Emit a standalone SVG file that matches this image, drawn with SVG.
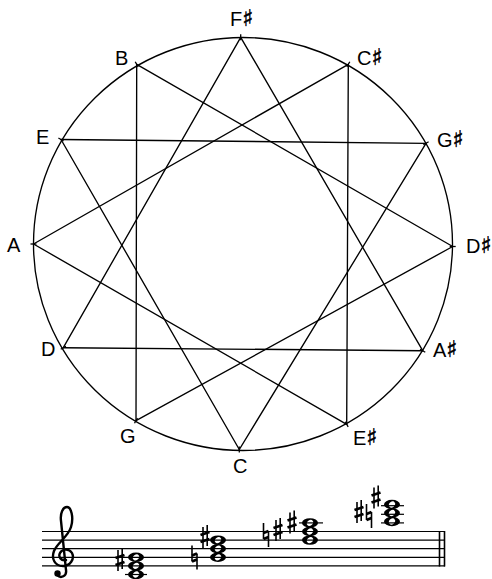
<svg xmlns="http://www.w3.org/2000/svg" width="492" height="579" viewBox="0 0 492 579">
<style>
.ln{stroke:#000;stroke-width:1.35;fill:none;stroke-linecap:round}
.tk{stroke:#000;stroke-width:1.3}
.lbl{font-family:"Liberation Sans","DejaVu Sans",sans-serif;font-size:20px;fill:#000}
.sh{font-family:"DejaVu Sans",sans-serif;font-size:23px;fill:#000;stroke:#000;stroke-width:0.5}
.st{stroke:#000;stroke-width:1.2}
.acc{stroke:#000;fill:none}
</style>
<defs>
<path id="wn" fill-rule="evenodd" fill="#000" d="M -8 0 A 8 4.7 0 1 0 8 0 A 8 4.7 0 1 0 -8 0 Z M 2.6 -2.1 A 3.4 2.3 -40 1 0 -2.6 2.1 A 3.4 2.3 -40 1 0 2.6 -2.1 Z"/>
<g id="sharp" class="acc">
<line x1="-2" y1="-10" x2="-2" y2="11" stroke-width="1.6"/>
<line x1="2.2" y1="-12" x2="2.2" y2="9" stroke-width="1.6"/>
<line x1="-4.5" y1="-2" x2="4.5" y2="-5" stroke-width="2.8"/>
<line x1="-4.5" y1="5" x2="4.5" y2="2" stroke-width="2.8"/>
</g>
<g id="natural" class="acc">
<line x1="-2.5" y1="-12" x2="-2.5" y2="4" stroke-width="1.6"/>
<line x1="2.5" y1="-4" x2="2.5" y2="12" stroke-width="1.6"/>
<line x1="-2.5" y1="-2" x2="2.5" y2="-4" stroke-width="2.6"/>
<line x1="-2.5" y1="4" x2="2.5" y2="2" stroke-width="2.6"/>
</g>
</defs>
<rect width="492" height="579" fill="#fff"/>
<g id="circle">
<ellipse cx="243" cy="244" rx="209.5" ry="206.5" class="ln"/>
</g>
<g id="connectors">
<line class="ln" x1="240.7" y1="37.3" x2="422.7" y2="350.7"/>
<line class="ln" x1="422.7" y1="350.7" x2="63.3" y2="347.7"/>
<line class="ln" x1="63.3" y1="347.7" x2="240.7" y2="37.3"/>
<line class="ln" x1="348.3" y1="64.3" x2="346.7" y2="424.3"/>
<line class="ln" x1="346.7" y1="424.3" x2="33.5" y2="244"/>
<line class="ln" x1="33.5" y1="244" x2="348.3" y2="64.3"/>
<line class="ln" x1="426" y1="143.3" x2="239.3" y2="449.5"/>
<line class="ln" x1="239.3" y1="449.5" x2="61" y2="139.5"/>
<line class="ln" x1="61" y1="139.5" x2="426" y2="143.3"/>
<line class="ln" x1="452.7" y1="246.5" x2="136" y2="420.7"/>
<line class="ln" x1="136" y1="420.7" x2="136.7" y2="64.3"/>
<line class="ln" x1="136.7" y1="64.3" x2="452.7" y2="246.5"/>
</g>
<g id="node-Fs"><line class="tk" x1="240.7" y1="40.3" x2="240.7" y2="34.3"/><text class="lbl" x="230" y="26">F<tspan class="sh">♯</tspan></text></g>
<g id="node-Cs"><line class="tk" x1="346.8" y1="66.9" x2="349.8" y2="61.7"/><text class="lbl" x="357" y="65">C<tspan class="sh">♯</tspan></text></g>
<g id="node-Gs"><line class="tk" x1="423.4" y1="144.8" x2="428.6" y2="141.8"/><text class="lbl" x="437" y="147">G<tspan class="sh">♯</tspan></text></g>
<g id="node-Ds"><line class="tk" x1="449.7" y1="246.5" x2="455.7" y2="246.5"/><text class="lbl" x="466" y="253">D<tspan class="sh">♯</tspan></text></g>
<g id="node-As"><line class="tk" x1="420.1" y1="349.2" x2="425.3" y2="352.2"/><text class="lbl" x="433" y="357">A<tspan class="sh">♯</tspan></text></g>
<g id="node-Es"><line class="tk" x1="345.2" y1="421.7" x2="348.2" y2="426.9"/><text class="lbl" x="353" y="445">E<tspan class="sh">♯</tspan></text></g>
<g id="node-C"><line class="tk" x1="239.3" y1="446.5" x2="239.3" y2="452.5"/><text class="lbl" x="233" y="473">C</text></g>
<g id="node-G"><line class="tk" x1="137.5" y1="418.1" x2="134.5" y2="423.3"/><text class="lbl" x="120" y="443">G</text></g>
<g id="node-D"><line class="tk" x1="65.9" y1="346.2" x2="60.7" y2="349.2"/><text class="lbl" x="41" y="356">D</text></g>
<g id="node-A"><line class="tk" x1="36.5" y1="244" x2="30.5" y2="244"/><text class="lbl" x="7" y="252">A</text></g>
<g id="node-E"><line class="tk" x1="63.6" y1="141" x2="58.4" y2="138"/><text class="lbl" x="36" y="144">E</text></g>
<g id="node-B"><line class="tk" x1="138.2" y1="66.9" x2="135.2" y2="61.7"/><text class="lbl" x="115" y="65">B</text></g>
<g id="staff">
<line class="st" x1="42" y1="531.5" x2="445" y2="531.5"/>
<line class="st" x1="42" y1="540.1" x2="445" y2="540.1"/>
<line class="st" x1="42" y1="548.7" x2="445" y2="548.7"/>
<line class="st" x1="42" y1="557.3" x2="445" y2="557.3"/>
<line class="st" x1="42" y1="565.9" x2="445" y2="565.9"/>
<line x1="439.5" y1="531" x2="439.5" y2="566.5" stroke="#000" stroke-width="1.6"/>
<line x1="444.5" y1="531" x2="444.5" y2="566.5" stroke="#000" stroke-width="1.6"/>
<path d="M 66 560 C 61 561, 58 557, 60 553 C 62 549, 69 548, 72 553 C 75 559, 70 566, 63 566 C 55 566, 51 559, 54 551 C 57 543, 68 537, 71 527 C 74 517, 71 507, 67 507 C 63 507, 60 513, 61 521 L 66 570 C 67 576, 61 579, 57 575" fill="none" stroke="#000" stroke-width="2.4" stroke-linecap="round"/>
<circle cx="57.5" cy="573.5" r="3.2" fill="#000"/>
<line class="st" x1="125" y1="574.5" x2="147" y2="574.5"/>
<use href="#wn" x="136" y="574.5"/><use href="#wn" x="136" y="565.9"/><use href="#wn" x="136" y="557.3"/>
<use href="#sharp" x="120" y="560"/>
<use href="#wn" x="218" y="557.3"/><use href="#wn" x="218" y="548.7"/><use href="#wn" x="218" y="540.1"/>
<use href="#natural" x="194.5" y="557.5"/>
<use href="#sharp" x="205" y="537"/>
<line class="st" x1="299" y1="522.9" x2="323" y2="522.9"/>
<use href="#wn" x="310" y="540.1"/><use href="#wn" x="310" y="531.5"/><use href="#wn" x="310" y="522.9"/>
<use href="#natural" x="266" y="535"/>
<use href="#sharp" x="278" y="530"/>
<use href="#sharp" x="292" y="522.5"/>
<line class="st" x1="381" y1="522.9" x2="404" y2="522.9"/>
<line class="st" x1="381" y1="514.3" x2="404" y2="514.3"/>
<line class="st" x1="381" y1="505.7" x2="404" y2="505.7"/>
<use href="#wn" x="392" y="521.5"/><use href="#wn" x="392" y="513"/><use href="#wn" x="392" y="504.5"/>
<use href="#sharp" x="359" y="512"/>
<use href="#natural" x="369" y="516"/>
<use href="#sharp" x="376" y="497.5"/>
</g>
</svg>
